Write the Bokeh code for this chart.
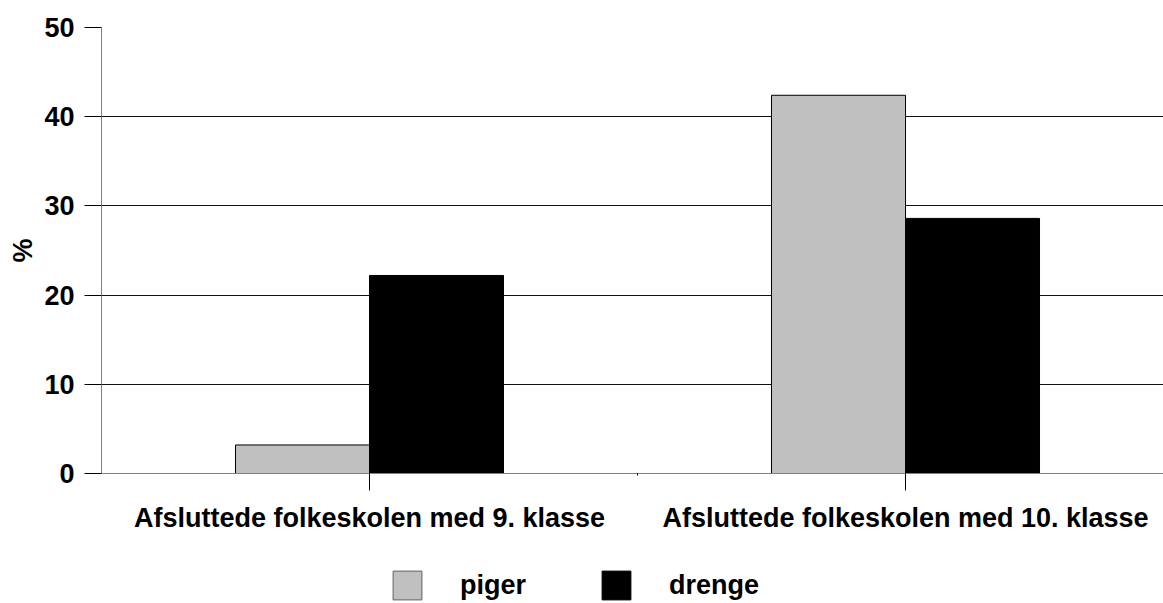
from bokeh.plotting import figure
from bokeh.layouts import column
from bokeh.models import Range1d, FixedTicker, Legend, LegendItem, ColumnDataSource
from bokeh.transform import dodge
from bokeh.embed import file_html
from bokeh.resources import INLINE

# ---- data ----
categories = ["Afsluttede folkeskolen med 9. klasse", "Afsluttede folkeskolen med 10. klasse"]
piger = [3.2, 42.4]
drenge = [22.2, 28.6]
series_names = ["piger", "drenge"]
series_colors = ["#c0c0c0", "black"]
y_ticks = [0, 10, 20, 30, 40, 50]
y_label = "%"

pos = list(range(len(categories)))
src = ColumnDataSource(dict(pos=pos, piger=piger, drenge=drenge))

FONT = "Liberation Sans"
FS = "27px"

p = figure(width=1163, height=560,
           x_range=Range1d(-0.5, 1.4813), y_range=Range1d(0, 50),
           output_backend="svg", toolbar_location=None,
           min_border_left=101, min_border_right=0,
           min_border_top=27, min_border_bottom=87)
p.outline_line_color = None

r1 = p.vbar(x=dodge("pos", -0.125, range=p.x_range), top="piger", width=0.25,
            source=src, fill_color=series_colors[0], line_color="black", line_width=1)
r2 = p.vbar(x=dodge("pos", 0.125, range=p.x_range), top="drenge", width=0.25,
            source=src, fill_color=series_colors[1], line_color="black", line_width=1)

# grid
p.xgrid.visible = False
p.ygrid.ticker = FixedTicker(ticks=y_ticks)
p.ygrid.grid_line_color = "#111111"
p.ygrid.grid_line_width = 1

# y axis
ya = p.yaxis[0]
ya.ticker = FixedTicker(ticks=y_ticks)
ya.axis_line_color = "#808080"
ya.major_tick_line_color = "black"
ya.major_tick_out = 17
ya.major_tick_in = 0
ya.minor_tick_line_color = None
ya.major_label_text_font = FONT
ya.major_label_text_font_style = "bold"
ya.major_label_text_font_size = FS
ya.major_label_text_color = "black"
ya.major_label_standoff = 10
ya.axis_label = y_label
ya.axis_label_text_font = FONT
ya.axis_label_text_font_style = "bold"
ya.axis_label_text_font_size = FS
ya.axis_label_text_color = "black"
ya.axis_label_standoff = 3

# x axis
xa = p.xaxis[0]
xa.ticker = FixedTicker(ticks=pos, minor_ticks=[0.5])
xa.major_label_overrides = {i: c for i, c in zip(pos, categories)}
xa.axis_line_color = "#808080"
xa.major_tick_line_color = "black"
xa.major_tick_out = 17
xa.major_tick_in = 0
xa.minor_tick_line_color = "black"
xa.minor_tick_out = 2
xa.minor_tick_in = 0
xa.major_label_text_font = FONT
xa.major_label_text_font_style = "bold"
xa.major_label_text_font_size = FS
xa.major_label_text_color = "black"
xa.major_label_standoff = 12

# ---- legend strip below the chart (its frame is aligned with the chart's) ----
lf = figure(width=1163, height=43, x_range=p.x_range, y_range=Range1d(1000, 1001),
            output_backend="svg", toolbar_location=None,
            x_axis_type=None, y_axis_type=None,
            min_border_left=101, min_border_right=0, min_border_top=0, min_border_bottom=0)
lf.outline_line_color = None
lf.xgrid.visible = False
lf.ygrid.visible = False
# same series, drawn out of this strip's view: only their legend swatches show
lr1 = lf.vbar(x="pos", top="piger", width=0.25, source=src,
              fill_color=series_colors[0], line_color="#606060", line_width=1)
lr2 = lf.vbar(x="pos", top="drenge", width=0.25, source=src,
              fill_color=series_colors[1], line_color="black", line_width=1)
legend = Legend(items=[LegendItem(label=series_names[0], renderers=[lr1]),
                       LegendItem(label=series_names[1], renderers=[lr2])],
                orientation="horizontal", location=(288, 0),
                glyph_width=36, glyph_height=36, label_standoff=35, spacing=72,
                padding=0, margin=0, border_line_color=None, background_fill_alpha=0,
                label_text_font=FONT, label_text_font_style="bold",
                label_text_font_size=FS, label_text_color="black")
lf.add_layout(legend, "center")

layout = column(p, lf, spacing=0)
open("out.html", "w").write(file_html(layout, INLINE))
